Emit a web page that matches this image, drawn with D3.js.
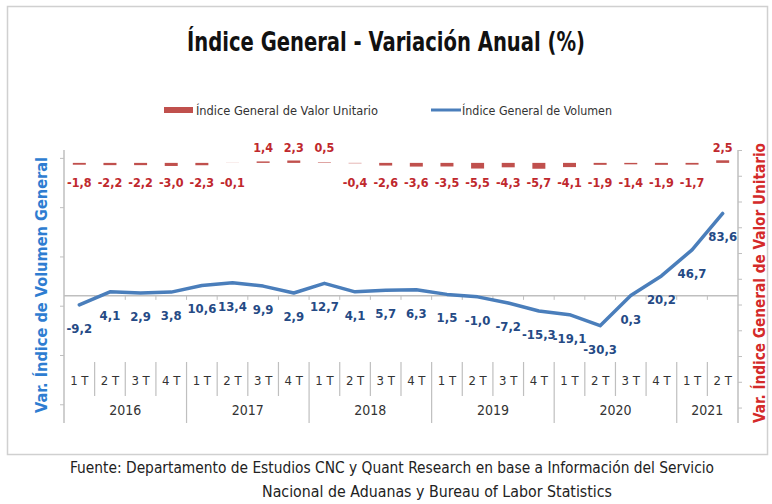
<!DOCTYPE html>
<html>
<head>
<meta charset="utf-8">
<script src="https://cdn.jsdelivr.net/npm/d3@7"></script>
<style>
  body { margin: 0; background: #fff; }
  text { font-family: "Liberation Sans Narrow", "DejaVu Sans Condensed", "Open Sans", sans-serif; }
</style>
</head>
<body>
<svg class="chart" width="772" height="504"></svg>
<script>
var years = ["2016", "2017", "2018", "2019", "2020", "2021"];
var quartersPerYear = [4, 4, 4, 4, 4, 2];
var quarterLabels = ["1 T", "2 T", "3 T", "4 T"];
var valorUnitario = [-1.8, -2.2, -2.2, -3.0, -2.3, -0.1, 1.4, 2.3, 0.5, -0.4, -2.6,
  -3.6, -3.5, -5.5, -4.3, -5.7, -4.1, -1.9, -1.4, -1.9, -1.7, 2.5];
var volumen = [-9.2, 4.1, 2.9, 3.8, 10.6, 13.4, 9.9, 2.9, 12.7, 4.1, 5.7, 6.3, 1.5,
  -1.0, -7.2, -15.3, -19.1, -30.3, 0.3, 20.2, 46.7, 83.6];
var leftTicks = [140, 90, 40, -10, -60, -110];
var rightTicks = [12.5, -12.5, -37.5, -62.5, -87.5, -112.5, -137.5, -162.5, -187.5, -212.5, -237.5];

// build the category list (year + quarter)
var cats = [];
years.forEach(function(y, i) {
  for (var q = 0; q < quartersPerYear[i]; q++) {
    cats.push({ key: y + "-" + q, year: y, quarter: quarterLabels[q] });
  }
});
var data = cats.map(function(c, i) {
  return { key: c.key, quarter: c.quarter, year: c.year, vu: valorUnitario[i], vol: volumen[i] };
});

var locale = d3.formatLocale({ decimal: ",", thousands: ".", grouping: [3], currency: ["", ""], minus: "-" });
var fmt = locale.format(".1f");

var svg = d3.select(".chart");
var plotLeft = 64, plotRight = 738, plotTop = 150, plotBottom = 423;

var x = d3.scaleBand().domain(cats.map(function(c) { return c.key; })).range([plotLeft, plotRight]);
var y = d3.scaleLinear().domain([-129, 148]).range([plotBottom, plotTop]);
var y2 = d3.scaleLinear().domain([-252.5, 12.5]).range([plotBottom, plotTop]);

var axisColor = "#bfbfbf";
var red = "#c0504d", redText = "#c0282d", blue = "#4a7ebb", blueText = "#254a85";

// frame
svg.append("rect")
  .attr("x", 7.5).attr("y", 6.5).attr("width", 760).attr("height", 448)
  .attr("fill", "#fff").attr("stroke", "#d0d0d0").attr("stroke-width", 1.5);

// title
svg.append("text")
  .attr("x", 386).attr("y", 51)
  .attr("text-anchor", "middle")
  .attr("font-size", 27).attr("font-weight", "bold").attr("fill", "#111")
  .attr("textLength", 398).attr("lengthAdjust", "spacingAndGlyphs")
  .text("Índice General - Variación Anual (%)");

// legend
var lg = svg.append("g").attr("font-size", 12).attr("fill", "#333");
lg.append("rect").attr("x", 164).attr("y", 107).attr("width", 29).attr("height", 6).attr("fill", red);
lg.append("text").attr("x", 196).attr("y", 114.5).attr("textLength", 182).attr("lengthAdjust", "spacingAndGlyphs")
  .text("Índice General de Valor Unitario");
lg.append("line").attr("x1", 431).attr("x2", 461).attr("y1", 110).attr("y2", 110)
  .attr("stroke", blue).attr("stroke-width", 3);
lg.append("text").attr("x", 462).attr("y", 114.5).attr("textLength", 150).attr("lengthAdjust", "spacingAndGlyphs")
  .text("Índice General de Volumen");

// left axis
var gl = svg.append("g").attr("transform", "translate(" + plotLeft + ",0)")
  .call(d3.axisLeft(y).tickValues(leftTicks).tickFormat("").tickSizeInner(4).tickSizeOuter(0));
gl.select(".domain").remove();
gl.selectAll(".tick line").attr("stroke", axisColor);
svg.append("line").attr("x1", plotLeft).attr("x2", plotLeft).attr("y1", plotTop).attr("y2", plotBottom)
  .attr("stroke", axisColor).attr("stroke-width", 1.5);

// right axis
var gr = svg.append("g").attr("transform", "translate(" + plotRight + ",0)")
  .call(d3.axisRight(y2).tickValues(rightTicks).tickFormat("").tickSizeInner(4).tickSizeOuter(0));
gr.select(".domain").remove();
gr.selectAll(".tick line").attr("stroke", axisColor);
svg.append("line").attr("x1", plotRight).attr("x2", plotRight).attr("y1", plotTop).attr("y2", plotBottom)
  .attr("stroke", axisColor).attr("stroke-width", 1.5);

// zero axis with ticks at category boundaries
svg.append("line").attr("x1", plotLeft).attr("x2", plotRight).attr("y1", y(0)).attr("y2", y(0))
  .attr("stroke", axisColor).attr("stroke-width", 1.5);
svg.append("g").selectAll("line").data(data.slice(1)).enter().append("line")
  .attr("x1", function(d) { return x(d.key); })
  .attr("x2", function(d) { return x(d.key); })
  .attr("y1", y(0)).attr("y2", y(0) + 4)
  .attr("stroke", axisColor);

// category labels (quarters + years)
var sepTop = 362;
var gc = svg.append("g");
gc.selectAll(".q").data(data).enter().append("text")
  .attr("class", "q")
  .attr("x", function(d) { return x(d.key) + x.bandwidth() / 2; })
  .attr("y", 385)
  .attr("text-anchor", "middle").attr("font-size", 13).attr("fill", "#333")
  .text(function(d) { return d.quarter; });
gc.selectAll(".qsep").data(data.slice(1)).enter().append("line")
  .attr("class", "qsep")
  .attr("x1", function(d) { return x(d.key); })
  .attr("x2", function(d) { return x(d.key); })
  .attr("y1", sepTop).attr("y2", function(d) { return d.quarter == "1 T" ? plotBottom : 396; })
  .attr("stroke", axisColor).attr("stroke-width", 1.2);
var yearStart = 0;
years.forEach(function(yr, i) {
  var first = x(cats[yearStart].key);
  var last = x(cats[yearStart + quartersPerYear[i] - 1].key) + x.bandwidth();
  gc.append("text")
    .attr("x", (first + last) / 2).attr("y", 415)
    .attr("text-anchor", "middle").attr("font-size", 14).attr("fill", "#333")
    .text(yr);
  yearStart += quartersPerYear[i];
});

// bars (secondary axis)
var barW = 13;
svg.append("g").selectAll("rect").data(data).enter().append("rect")
  .attr("x", function(d) { return x(d.key) + x.bandwidth() / 2 - barW / 2; })
  .attr("y", function(d) { return Math.min(y2(d.vu), y2(0)); })
  .attr("width", barW)
  .attr("height", function(d) { return Math.abs(y2(d.vu) - y2(0)); })
  .attr("fill", red);
svg.append("g").selectAll("text").data(data).enter().append("text")
  .attr("x", function(d) { return x(d.key) + x.bandwidth() / 2; })
  .attr("y", function(d) { return d.vu < 0 ? 187 : 152; })
  .attr("text-anchor", "middle").attr("font-size", 12.5).attr("font-weight", "bold")
  .attr("fill", redText)
  .text(function(d) { return fmt(d.vu); });

// volume line
var line = d3.line()
  .x(function(d) { return x(d.key) + x.bandwidth() / 2; })
  .y(function(d) { return y(d.vol); });
svg.append("path").datum(data)
  .attr("fill", "none").attr("stroke", blue).attr("stroke-width", 3.5)
  .attr("stroke-linejoin", "round").attr("stroke-linecap", "round")
  .attr("d", line);
svg.append("g").selectAll("text").data(data).enter().append("text")
  .attr("x", function(d) { return x(d.key) + x.bandwidth() / 2; })
  .attr("y", function(d) { return y(d.vol) + 28; })
  .attr("text-anchor", "middle").attr("font-size", 13).attr("font-weight", "bold")
  .attr("fill", blueText)
  .text(function(d) { return fmt(d.vol); });

// axis titles
svg.append("text")
  .attr("transform", "translate(47,285) rotate(-90)")
  .attr("text-anchor", "middle").attr("font-size", 15).attr("font-weight", "bold")
  .attr("fill", "#2e7dd1")
  .attr("textLength", 256).attr("lengthAdjust", "spacingAndGlyphs")
  .text("Var. Índice de Volumen General");
svg.append("text")
  .attr("transform", "translate(765,283) rotate(-90)")
  .attr("text-anchor", "middle").attr("font-size", 15).attr("font-weight", "bold")
  .attr("fill", "#d42a2a")
  .attr("textLength", 280).attr("lengthAdjust", "spacingAndGlyphs")
  .text("Var. Índice General de Valor Unitario");

// source note
var fn = svg.append("g").attr("font-size", 15).attr("fill", "#222").attr("text-anchor", "middle");
fn.append("text").attr("x", 392).attr("y", 473)
  .attr("textLength", 644).attr("lengthAdjust", "spacingAndGlyphs")
  .text("Fuente: Departamento de Estudios CNC y Quant Research en base a Información del Servicio");
fn.append("text").attr("x", 437).attr("y", 497)
  .attr("textLength", 350).attr("lengthAdjust", "spacingAndGlyphs")
  .text("Nacional de Aduanas y Bureau of Labor Statistics");
</script>
</body>
</html>
